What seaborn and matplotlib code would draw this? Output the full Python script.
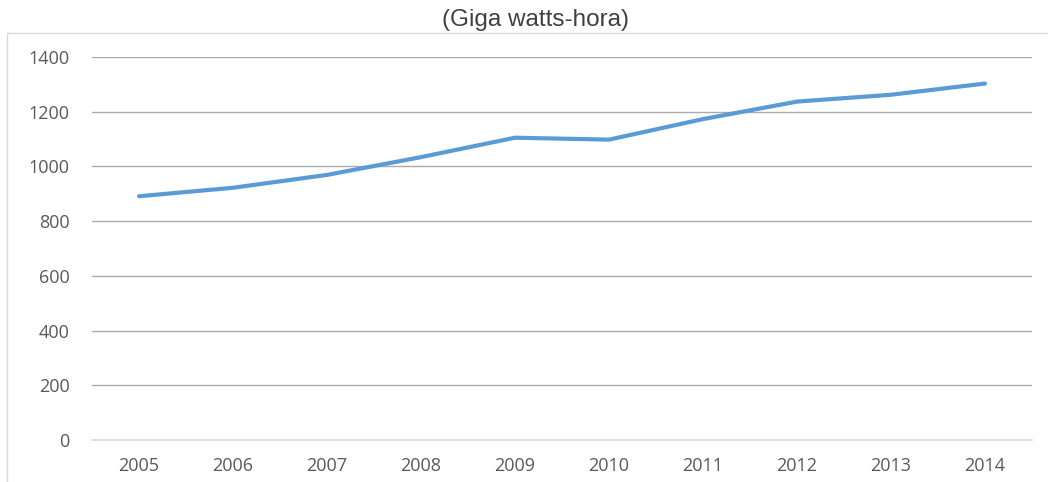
import numpy as np
import pandas as pd
import matplotlib.pyplot as plt
from matplotlib.patches import Rectangle
import seaborn as sns

# data
years = [2005, 2006, 2007, 2008, 2009, 2010, 2011, 2012, 2013, 2014]
gwh = [891, 922, 969, 1034, 1105, 1098, 1173, 1237, 1262, 1303]
y_ticks = [0, 200, 400, 600, 800, 1000, 1200, 1400]
title = '(Giga watts-hora)'

df = pd.DataFrame({'year': years, 'gwh': gwh})

sns.set_theme(style='white')
plt.rcParams['font.family'] = ['Open Sans', 'DejaVu Sans']

fig = plt.figure(figsize=(10.48, 4.82), dpi=100)
ax = fig.add_axes([92 / 1048, 42 / 482, 940 / 1048, 383 / 482])

sns.lineplot(data=df, x='year', y='gwh', ax=ax, color='#5B9BD5', linewidth=3.0,
             solid_capstyle='round', solid_joinstyle='round', zorder=3)

ax.set_xlim(years[0] - 0.5, years[-1] + 0.5)
ax.set_ylim(0, 1400)

# horizontal gridlines
for v in y_ticks[1:]:
    ax.axhline(v, color='#ababab', linewidth=1.0, zorder=1)

ax.set_yticks(y_ticks)
ax.set_yticklabels([str(v) for v in y_ticks], fontsize=13, color='#595959')
ax.tick_params(axis='y', length=0, pad=16)

# category boundaries as major ticks, labels at centers as minor ticks
ax.set_xticks(np.arange(years[0] - 0.5, years[-1] + 1, 1.0))
ax.set_xticklabels([])
ax.set_xticks(years, minor=True)
ax.set_xticklabels([str(y) for y in years], minor=True, fontsize=13, color='#595959')
ax.tick_params(axis='x', which='major', direction='out', length=6, width=1, color='#d9d9d9')
ax.tick_params(axis='x', which='minor', length=0, pad=12)

for s in ['top', 'right', 'left']:
    ax.spines[s].set_visible(False)
ax.spines['bottom'].set_color('#d9d9d9')
ax.spines['bottom'].set_linewidth(1.2)
ax.set_xlabel('')
ax.set_ylabel('')

# outer chart frame (partially cropped in the reference)
fig.patches.append(Rectangle((7 / 1048, -0.2), 1.2, 0.2 + 449 / 482, transform=fig.transFigure,
                             fill=False, edgecolor='#d9d9d9', linewidth=1.0))

fig.text(535 / 1048, 1 - 20 / 482, title, ha='center', va='center', fontsize=17.5,
         color='#404040', family=['Liberation Sans', 'DejaVu Sans'])

fig.savefig('out.png', dpi=100)
